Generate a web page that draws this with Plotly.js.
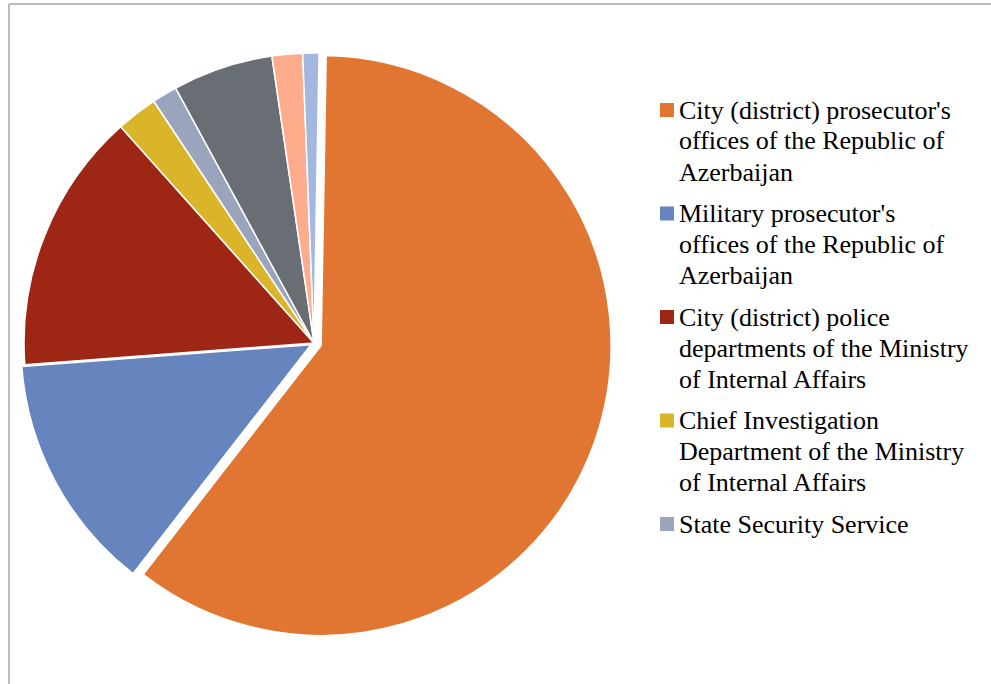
<!DOCTYPE html>
<html>
<head>
<meta charset="utf-8">
<script src="https://cdn.plot.ly/plotly-3.0.1.min.js"></script>
<style>
html,body{margin:0;padding:0;background:#fff;}
#chart{width:991px;height:684px;}
</style>
</head>
<body>
<div id="chart"></div>
<script>
// ---- data ----
const labels = [
  "City (district) prosecutor's offices of the Republic of Azerbaijan",
  "Military prosecutor's offices of the Republic of Azerbaijan",
  "City (district) police departments of the Ministry of Internal Affairs",
  "Chief Investigation Department of the Ministry of Internal Affairs",
  "State Security Service",
  "State Customs Committee",
  "Ministry of Taxes",
  "Other bodies"
];
const values = [60.3, 13.3, 14.6, 2.3, 1.4, 5.6, 1.7, 0.9];
const legendLines = [
  ["City (district) prosecutor's", "offices of the Republic of", "Azerbaijan"],
  ["Military prosecutor's", "offices of the Republic of", "Azerbaijan"],
  ["City (district) police", "departments of the Ministry", "of Internal Affairs"],
  ["Chief Investigation", "Department of the Ministry", "of Internal Affairs"],
  ["State Security Service"]
];

// ---- styles ----
const colors = ["#E07632", "#6685BF", "#9E2615", "#DAB52A", "#9AA4BD", "#696E75", "#FEAC8C", "#A4B7E0"];
const pulls = [0.026, 0.012, 0, 0, 0, 0, 0, 0];
const W = 991, H = 684;
const px = x => x / W;
const py = y => (H - y) / H;

// pie geometry (base centre & radius in px)
const cx = 314, cy = 343, r = 290;
const maxPull = Math.max(...pulls);
const half = r * (1 + maxPull);

const trace = {
  type: 'pie',
  labels: labels,
  values: values,
  sort: false,
  direction: 'clockwise',
  rotation: 1,
  pull: pulls,
  marker: {colors: colors, line: {color: '#ffffff', width: 1.5}},
  textinfo: 'none',
  hoverinfo: 'label+percent',
  showlegend: false,
  domain: {x: [px(cx - half), px(cx + half)], y: [py(cy + half), py(cy - half)]}
};

const shapes = [
  {type: 'line', xref: 'paper', yref: 'paper', x0: px(9), x1: px(9), y0: py(4), y1: 0, line: {color: '#A6A6A6', width: 1.5}},
  {type: 'line', xref: 'paper', yref: 'paper', x0: px(9), x1: 1, y0: py(4), y1: py(4), line: {color: '#A6A6A6', width: 1.5}}
];
const annotations = [];
const entryCenters = [110, 213.5, 317, 420.5, 524];
const lineH = 31;
legendLines.forEach((lines, i) => {
  const c = entryCenters[i];
  shapes.push({type: 'rect', xref: 'paper', yref: 'paper',
    x0: px(660), x1: px(674), y0: py(c + 7), y1: py(c - 7),
    fillcolor: colors[i], line: {width: 0}});
  lines.forEach((t, j) => {
    annotations.push({
      xref: 'paper', yref: 'paper', x: px(677), y: py(c + j * lineH),
      xanchor: 'left', yanchor: 'middle', align: 'left', showarrow: false,
      text: t,
      font: {family: 'Liberation Serif, Times New Roman, serif', size: 26, color: '#000000'}
    });
  });
});

const layout = {
  width: W, height: H,
  margin: {l: 0, r: 0, t: 0, b: 0},
  paper_bgcolor: '#ffffff',
  showlegend: false,
  shapes: shapes,
  annotations: annotations
};
Plotly.newPlot('chart', [trace], layout, {displayModeBar: false, staticPlot: true});
</script>
</body>
</html>
